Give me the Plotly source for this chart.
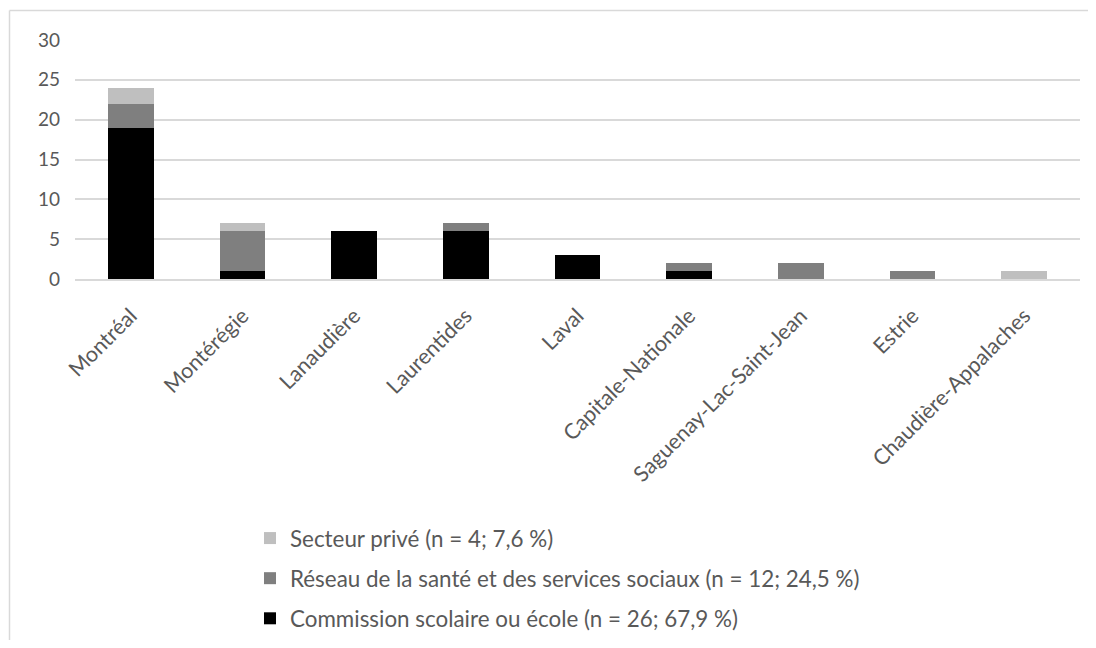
import plotly.graph_objects as go

regions = ["Montréal", "Montérégie", "Lanaudière", "Laurentides", "Laval",
           "Capitale-Nationale", "Saguenay-Lac-Saint-Jean", "Estrie", "Chaudière-Appalaches"]
commission = [19, 1, 6, 6, 3, 1, 0, 0, 0]
reseau = [3, 5, 0, 1, 0, 1, 2, 1, 0]
prive = [2, 1, 0, 0, 0, 0, 0, 0, 1]
y_ticks = [0, 5, 10, 15, 20, 25, 30]

names = ["Commission scolaire ou école (n = 26; 67,9 %)",
         "Réseau de la santé et des services sociaux (n = 12; 24,5 %)",
         "Secteur privé (n = 4; 7,6 %)"]
colors = ["#000000", "#7f7f7f", "#bfbfbf"]
ranks = [3, 2, 1]

# page body has an 8px margin: figure sized so it fits in the window
W, H = 1080, 632
L, R, T, B = 67, 8, 32, 361
pw, ph = W - L - R, H - T - B

def px(x):
    return (x - L) / pw

def py(y):
    return (H - B - y) / ph

fig = go.Figure()
for i, (vals, nm, col, rk) in enumerate(zip([commission, reseau, prive], names, colors, ranks)):
    fig.add_trace(go.Bar(x=regions, y=vals, name=nm, marker_color=col,
                         marker_line_width=0, legendgroup=f"g{i}", legendrank=rk))

fam = "Lato, 'Open Sans', sans-serif"
grey = "#595959"

fig.update_layout(
    width=W, height=H,
    margin=dict(l=L, r=R, t=T, b=B, autoexpand=False),
    barmode="stack",
    bargap=0.59,
    plot_bgcolor="white",
    paper_bgcolor="white",
    font=dict(family=fam, size=20, color=grey),
    showlegend=True,
    legend=dict(traceorder="grouped", tracegroupgap=8,
                x=px(242), xanchor="left", y=py(509), yanchor="top",
                font=dict(family=fam, size=22.4, color=grey),
                itemwidth=30, bgcolor="rgba(0,0,0,0)"),
    xaxis=dict(tickangle=-45, showgrid=False, showline=True, linecolor="#d9d9d9",
               linewidth=1.5, ticks="", ticklabelstandoff=14,
               tickfont=dict(family=fam, size=21.5, color=grey)),
    yaxis=dict(range=[0, 30], tickvals=y_ticks, showgrid=True, gridcolor="#d9d9d9",
               gridwidth=1.5, zeroline=False, showline=False, ticks="",
               ticklabelstandoff=14, tickfont=dict(family=fam, size=19, color=grey)),
    shapes=[
        dict(type="line", xref="paper", yref="paper", x0=px(1.5), x1=px(W + 5),
             y0=py(2.5), y1=py(2.5), line=dict(color="#d9d9d9", width=1.5)),
        dict(type="line", xref="paper", yref="paper", x0=px(1.5), x1=px(1.5),
             y0=py(2.5), y1=py(H + 5), line=dict(color="#d9d9d9", width=1.5)),
    ],
)

fig.write_html("out.html")
